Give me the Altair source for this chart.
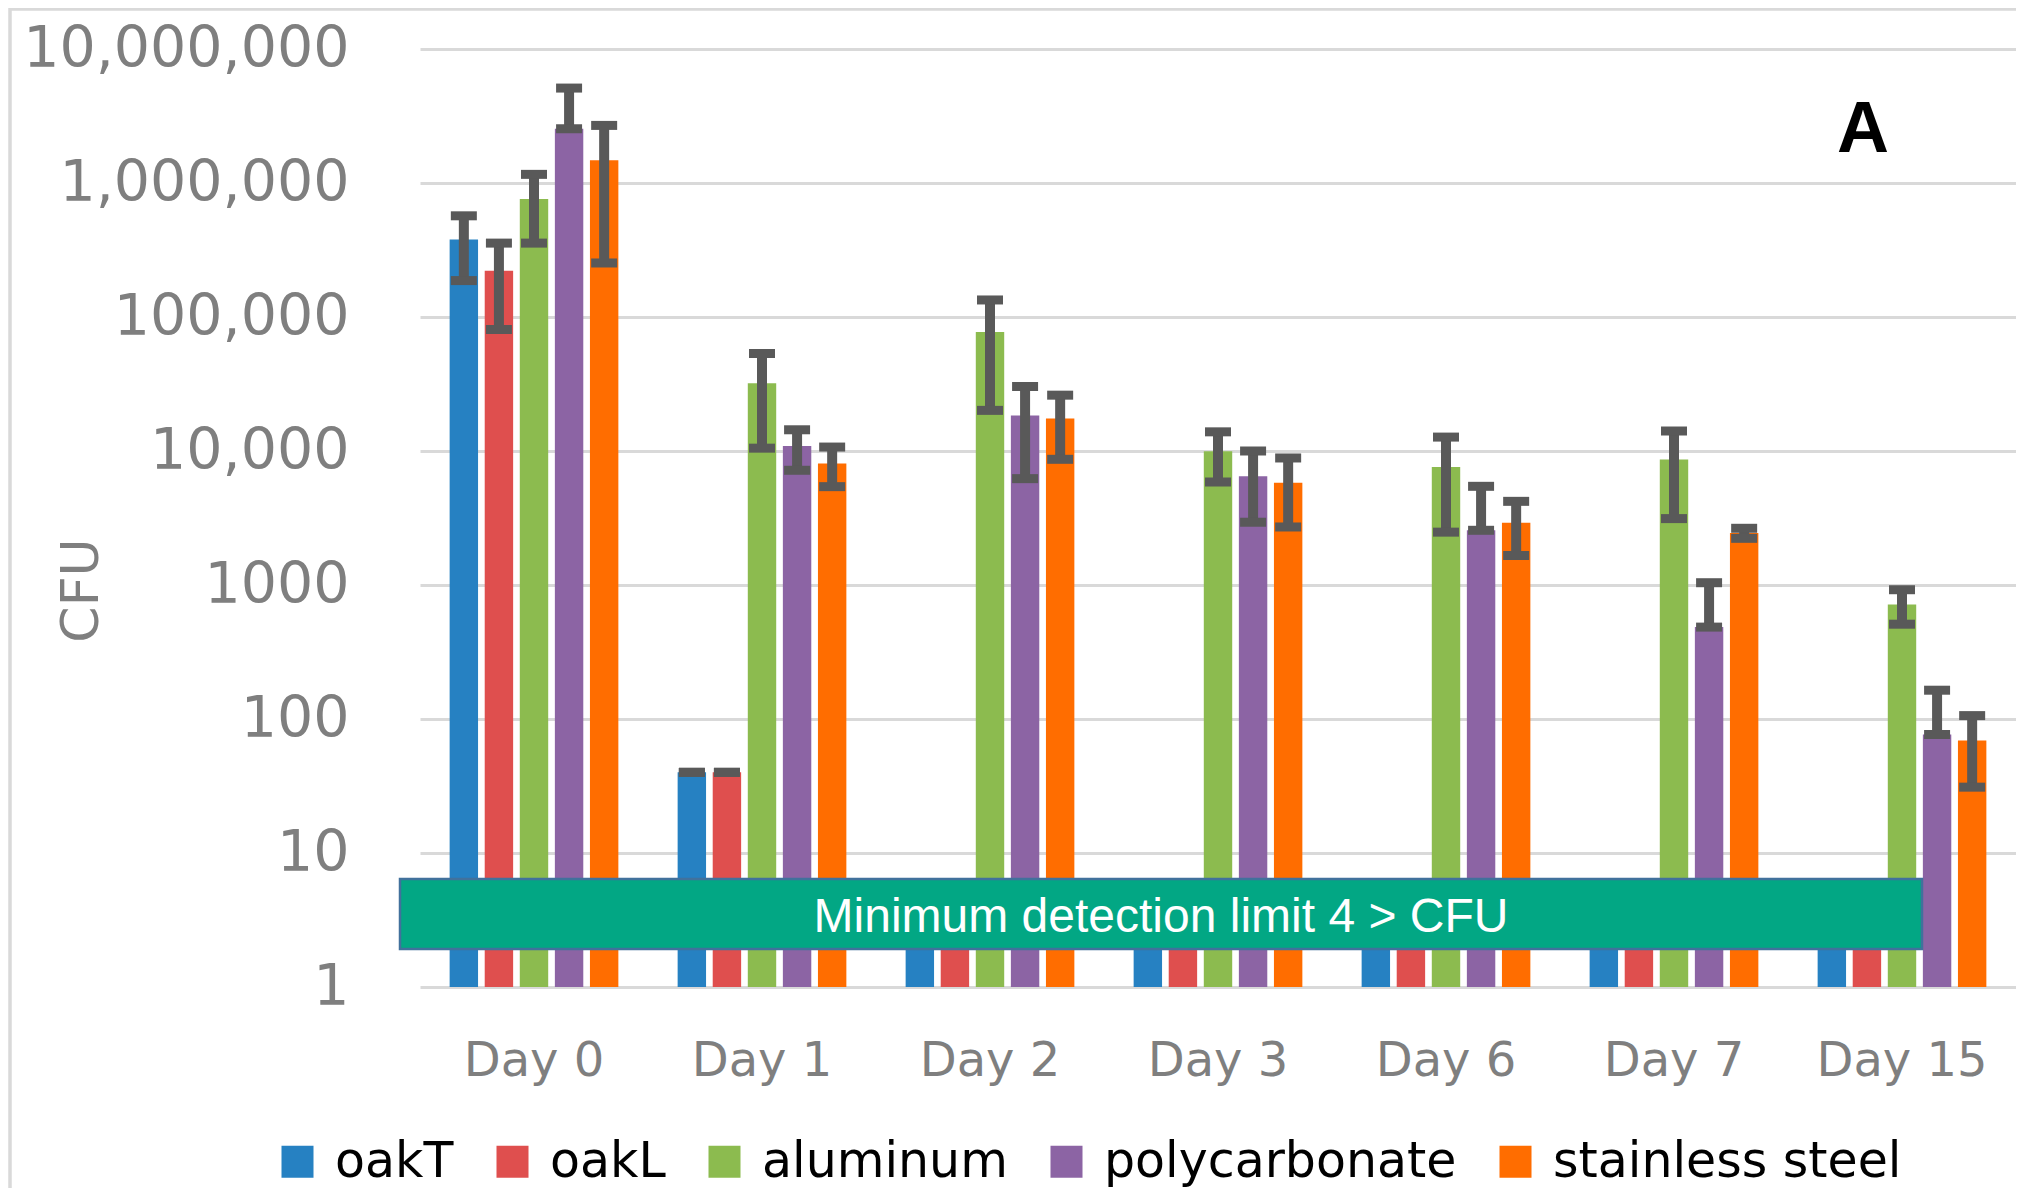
import altair as alt
import pandas as pd

days = ["Day 0", "Day 1", "Day 2", "Day 3", "Day 6", "Day 7", "Day 15"]
materials = ["oakT", "oakL", "aluminum", "polycarbonate", "stainless steel"]
colors = ["#2681C2", "#DF4F4E", "#8CBB4F", "#8C64A4", "#FF6D00"]

# bar heights (CFU)
oakT = [379000, 40, 4, 4, 4, 4, 4]
oakL = [221000, 40, 4, 4, 4, 4, 4]
aluminum = [758000, 32000, 77400, 9950, 7600, 8630, 716]
polycarbonate = [2540000, 10900, 18400, 6470, 2560, 485, 76.6]
stainless = [1480000, 8050, 17500, 5800, 2920, 2440, 69]

# upper ends of error bars
oakT_hi = [569000, 40, None, None, None, None, None]
oakL_hi = [356000, 40, None, None, None, None, None]
aluminum_hi = [1160000, 53400, 134000, 13900, 12700, 14100, 922]
polycarbonate_hi = [5110000, 14400, 30300, 10000, 5450, 1040, 164]
stainless_hi = [2690000, 10700, 26100, 8870, 4210, 2650, 106]

# lower ends of error bars (drawn at bar top where error exceeds value)
oakT_lo = [187000, 40, None, None, None, None, None]
oakL_lo = [80700, 40, None, None, None, None, None]
aluminum_lo = [356000, 10500, 20100, 5870, 2480, 3130, 510]
polycarbonate_lo = [2540000, 7180, 6220, 2940, 2560, 485, 76.6]
stainless_lo = [253000, 5420, 8670, 2710, 1660, 2230, 31]

y_ticks = [1, 10, 100, 1000, 10000, 100000, 1000000, 10000000]
box_label = "Minimum detection limit 4 > CFU"
panel_label = "A"

series = [oakT, oakL, aluminum, polycarbonate, stainless]
his = [oakT_hi, oakL_hi, aluminum_hi, polycarbonate_hi, stainless_hi]
los = [oakT_lo, oakL_lo, aluminum_lo, polycarbonate_lo, stainless_lo]

rows = []
for m, vals, hi, lo in zip(materials, series, his, los):
    for d, v, h, l in zip(days, vals, hi, lo):
        rows.append({"day": d, "material": m, "value": v, "hi": h, "lo": l})
df = pd.DataFrame(rows)
err = df.dropna(subset=["hi", "lo"])

W, H = 1596, 938
GRAY = "#7f7f7f"
ERR = "#595959"
FONT = "DejaVu Sans"

x_enc = alt.X(
    "day:N", sort=days,
    scale=alt.Scale(paddingInner=0.26, paddingOuter=0.13),
    axis=alt.Axis(title=None, labelAngle=0, labelFont=FONT, labelFontSize=48,
                  labelColor=GRAY, labelBaseline="middle", labelPadding=74,
                  ticks=False, tickSize=0, domain=False, grid=False, labelLimit=1000),
)
xo_enc = alt.XOffset("material:N", sort=materials,
                     scale=alt.Scale(paddingInner=0.19, paddingOuter=0))
y_scale = alt.Scale(type="log", domain=[1, 10000000], nice=False)
y_axis = alt.Axis(
    values=y_ticks,
    labelExpr="datum.value >= 10000 ? format(datum.value, ',') : format(datum.value, 'd')",
    labelFont=FONT, labelFontSize=57, labelColor=GRAY, labelPadding=71,
    labelLimit=1000, ticks=False, tickSize=0, domain=False,
    grid=True, gridColor="#d9d9d9", gridWidth=3,
    titleFont=FONT, titleFontSize=52, titleColor=GRAY, titleFontWeight="normal",
    titleAngle=270, titleAlign="center", titleBaseline="middle",
    titleX=-339, titleY=541,
)

dummy = pd.DataFrame({"k": [0]})

frame = alt.Chart(dummy).mark_rect(fillOpacity=0, stroke="#d9d9d9", strokeWidth=3.5).encode(
    x=alt.value(-410), x2=alt.value(W + 100), y=alt.value(-40), y2=alt.value(H + 400)
)

bars = alt.Chart(df).mark_bar().encode(
    x=x_enc,
    xOffset=xo_enc,
    y=alt.Y("value:Q", scale=y_scale, axis=y_axis, title="CFU"),
    y2=alt.datum(1),
    color=alt.Color(
        "material:N", sort=materials,
        scale=alt.Scale(domain=materials, range=colors),
        legend=alt.Legend(
            title=None, orient="none", legendX=-147, legendY=1088,
            direction="horizontal", symbolType="square", symbolSize=1024,
            symbolStrokeWidth=0, symbolOpacity=1, labelFont=FONT, labelFontSize=49,
            labelColor="black", labelOffset=13, columnPadding=34, labelLimit=1000,
        ),
    ),
)

stems = alt.Chart(err).mark_rule(color=ERR, strokeWidth=10).encode(
    x=alt.X("day:N", sort=days),
    xOffset=alt.XOffset("material:N", sort=materials),
    y=alt.Y("lo:Q", title="CFU"),
    y2="hi:Q",
)
caps_hi = alt.Chart(err).mark_tick(color=ERR, thickness=9, size=26, opacity=1).encode(
    x=alt.X("day:N", sort=days),
    xOffset=alt.XOffset("material:N", sort=materials),
    y=alt.Y("hi:Q", title="CFU"),
)
caps_lo = alt.Chart(err).mark_tick(color=ERR, thickness=9, size=26, opacity=1).encode(
    x=alt.X("day:N", sort=days),
    xOffset=alt.XOffset("material:N", sort=materials),
    y=alt.Y("lo:Q", title="CFU"),
)

box = alt.Chart(dummy).mark_rect(fill="#02A784", stroke="#41719C", strokeWidth=2.5).encode(
    x=alt.value(-20), x2=alt.value(1502), y=alt.value(830), y2=alt.value(900)
)
box_text = alt.Chart(dummy).mark_text(
    text=box_label, font="Liberation Sans", fontSize=48, color="white",
    align="center", baseline="middle",
).encode(x=alt.value(741), y=alt.value(869))

a_text = alt.Chart(dummy).mark_text(
    text=panel_label, font="Liberation Sans", fontWeight="bold", fontSize=72,
    color="black", align="center", baseline="middle",
).encode(x=alt.value(1443), y=alt.value(81))

chart = alt.layer(frame, bars, stems, caps_hi, caps_lo, box, box_text, a_text).properties(
    width=W, height=H,
    autosize=alt.AutoSizeParams(type="none"),
    padding={"left": 412, "top": 41, "right": 0, "bottom": 201},
    background="white",
).configure_view(strokeWidth=0)

chart.save("out.html", embed_options={"renderer": "svg", "actions": False})
